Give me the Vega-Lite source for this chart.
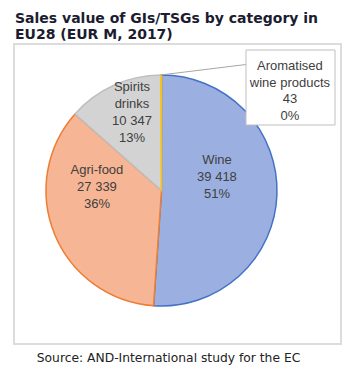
{
  "$schema": "https://vega.github.io/schema/vega-lite/v6.json",
  "width": 327,
  "height": 300,
  "autosize": "none",
  "padding": {"left": 14, "top": 44, "right": 14, "bottom": 39},
  "background": "white",
  "config": {"view": {"stroke": "#dcdcdc", "strokeWidth": 2}},
  "title": {
    "text": ["Sales value of GIs/TSGs by category in", "EU28 (EUR M, 2017)"],
    "anchor": "start",
    "frame": "group",
    "orient": "top",
    "font": "DejaVu Sans",
    "fontSize": 14,
    "fontWeight": "bold",
    "color": "#1c1c30",
    "lineHeight": 16,
    "offset": 0,
    "baseline": "alphabetic",
    "dx": 1,
    "dy": 9
  },
  "layer": [
    {
      "data": {"name": "slices", "values": [
        {"category": "Wine", "value": 39418, "pct": 51},
        {"category": "Agri-food", "value": 27339, "pct": 36},
        {"category": "Spirits drinks", "value": 10347, "pct": 13},
        {"category": "Aromatised wine products", "value": 43, "pct": 0}
      ]},
      "transform": [
        {"calculate": "(datum.category === 'Spirits drinks' ? 'Spirits\\ndrinks' : datum.category === 'Aromatised wine products' ? 'Aromatised\\nwine products' : datum.category) + '\\n' + replace(format(datum.value, ','), ',', ' ') + '\\n' + datum.pct + '%'", "as": "label"}
      ],
      "layer": [
        {
          "mark": {"type": "arc", "radius": 115.5, "x": 147.5, "y": 146.5, "strokeWidth": 1.5},
          "encoding": {
            "theta": {"field": "value", "type": "quantitative", "stack": true},
            "order": {"field": "value", "type": "quantitative", "sort": "descending"},
            "color": {
              "field": "category", "type": "nominal", "legend": null,
              "scale": {"domain": ["Wine", "Agri-food", "Spirits drinks", "Aromatised wine products"], "range": ["#9bb0e1", "#f6b595", "#d3d3d3", "#ffc000"]}
            },
            "stroke": {
              "field": "category", "type": "nominal", "legend": null,
              "scale": {"domain": ["Wine", "Agri-food", "Spirits drinks", "Aromatised wine products"], "range": ["#4472c4", "#ed7d31", "#bfbfbf", "#ffc000"]}
            }
          }
        },
        {
          "data": {"values": [{"note": "leader"}]},
          "mark": {"type": "rule", "color": "#a6a6a6", "strokeWidth": 1},
          "encoding": {"x": {"value": 146.5}, "y": {"value": 31}, "x2": {"value": 232}, "y2": {"value": 20.5}}
        },
        {
          "data": {"values": [{"note": "box"}]},
          "mark": {"type": "rect", "fill": "white", "stroke": "#bfbfbf", "strokeWidth": 1},
          "encoding": {"x": {"value": 232}, "y": {"value": 6}, "x2": {"value": 321}, "y2": {"value": 81}}
        },
        {
          "mark": {"type": "text", "x": 147.5, "y": 146.5, "radius": 57, "dx": -1.5, "dy": -32.5, "font": "Liberation Sans", "fontSize": 13, "lineHeight": 17, "lineBreak": "\n", "color": "#404040", "align": "center", "baseline": "middle"},
          "encoding": {
            "theta": {"field": "value", "type": "quantitative", "stack": true},
            "order": {"field": "value", "type": "quantitative", "sort": "descending"},
            "detail": {"field": "category"},
            "text": {"condition": {"test": "datum.category === 'Wine'", "field": "label"}, "value": ""}
          }
        },
        {
          "mark": {"type": "text", "x": 147.5, "y": 146.5, "radius": 65, "dx": -4.4, "dy": -45, "font": "Liberation Sans", "fontSize": 13, "lineHeight": 17, "lineBreak": "\n", "color": "#404040", "align": "center", "baseline": "middle"},
          "encoding": {
            "theta": {"field": "value", "type": "quantitative", "stack": true},
            "order": {"field": "value", "type": "quantitative", "sort": "descending"},
            "detail": {"field": "category"},
            "text": {"condition": {"test": "datum.category === 'Agri-food'", "field": "label"}, "value": ""}
          }
        },
        {
          "mark": {"type": "text", "x": 147.5, "y": 146.5, "radius": 83, "dx": 4.7, "dy": -27.4, "font": "Liberation Sans", "fontSize": 13, "lineHeight": 17, "lineBreak": "\n", "color": "#404040", "align": "center", "baseline": "middle"},
          "encoding": {
            "theta": {"field": "value", "type": "quantitative", "stack": true},
            "order": {"field": "value", "type": "quantitative", "sort": "descending"},
            "detail": {"field": "category"},
            "text": {"condition": {"test": "datum.category === 'Spirits drinks'", "field": "label"}, "value": ""}
          }
        },
        {
          "mark": {"type": "text", "x": 147.5, "y": 146.5, "radius": 100, "dx": 128.6, "dy": -24.5, "font": "Liberation Sans", "fontSize": 13, "lineHeight": 16.5, "lineBreak": "\n", "color": "#404040", "align": "center", "baseline": "middle"},
          "encoding": {
            "theta": {"field": "value", "type": "quantitative", "stack": true},
            "order": {"field": "value", "type": "quantitative", "sort": "descending"},
            "detail": {"field": "category"},
            "text": {"condition": {"test": "datum.category === 'Aromatised wine products'", "field": "label"}, "value": ""}
          }
        }
      ]
    },
    {
      "data": {"values": [{"source": "Source: AND-International study for the EC"}]},
      "mark": {"type": "text", "font": "DejaVu Sans", "fontSize": 12.3, "fontWeight": "normal", "color": "#222222", "align": "center", "baseline": "middle"},
      "encoding": {"x": {"value": 154.5}, "y": {"value": 314}, "text": {"field": "source"}}
    }
  ]
}
